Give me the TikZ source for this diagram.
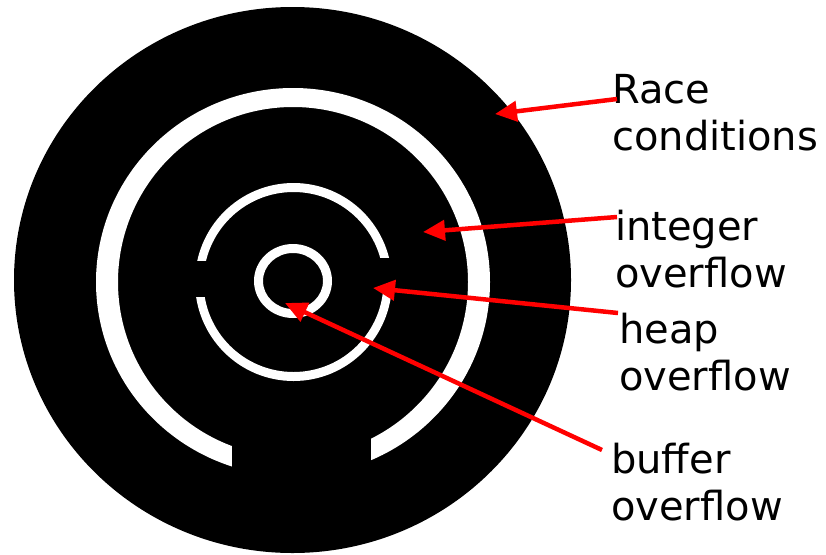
\documentclass[tikz,border=0pt]{standalone}
\usepackage{fontspec}
\setmainfont{DejaVu Sans}
\usetikzlibrary{arrows.meta}
\begin{document}
\begin{tikzpicture}[x=1pt,y=-1pt,
  lbl/.style={anchor=base west,align=left,inner sep=0pt,text=black,
    font=\fontsize{40}{47}\selectfont},
  redarrow/.style={draw=red,line width=4.5pt,
    -{Triangle[length=22pt,width=20pt]}}]
\useasboundingbox (0,0) rectangle (826,554);
% outer disc
\fill[black] (292.5,280) ellipse [x radius=278.5,y radius=273];
% big ring with bottom gap
\fill[white,even odd rule] (293,282) ellipse [x radius=197,y radius=194]
  (293,282) ellipse [x radius=175,y radius=175];
\fill[black] (232,400) rectangle (371,500);
% middle ring with side gaps
\fill[white,even odd rule] (293.5,282) ellipse [x radius=98.5,y radius=99]
  (293.5,282) ellipse [x radius=90,y radius=90];
\fill[black] (185,261) rectangle (215,297);
\fill[black] (372,258) rectangle (402,294);
% inner ring
\fill[white,even odd rule] (293,281) ellipse [x radius=39,y radius=37]
  (293,281) ellipse [x radius=30,y radius=28];
% labels (anchor at the baseline of the last line)
\node[lbl] (race) at (612,150) {Race\\conditions};
\node[lbl] (integer) at (615,287) {integer\\overflow};
\node[lbl] (heap) at (619,390) {heap\\overflow};
\node[lbl] (buffer) at (611,520) {buffer\\overflow};
% arrow ends
\coordinate (raceS) at (617,99);
\coordinate (raceT) at (495,114);
\coordinate (intS) at (617,217);
\coordinate (intT) at (423,232);
\coordinate (heapS) at (618,313);
\coordinate (heapT) at (373,288);
\coordinate (bufS) at (602,450);
\coordinate (bufT) at (285,303);
\draw[redarrow] (raceS) -- (raceT);
\draw[redarrow] (intS) -- (intT);
\draw[redarrow] (heapS) -- (heapT);
\draw[redarrow] (bufS) -- (bufT);
\end{tikzpicture}
\end{document}
